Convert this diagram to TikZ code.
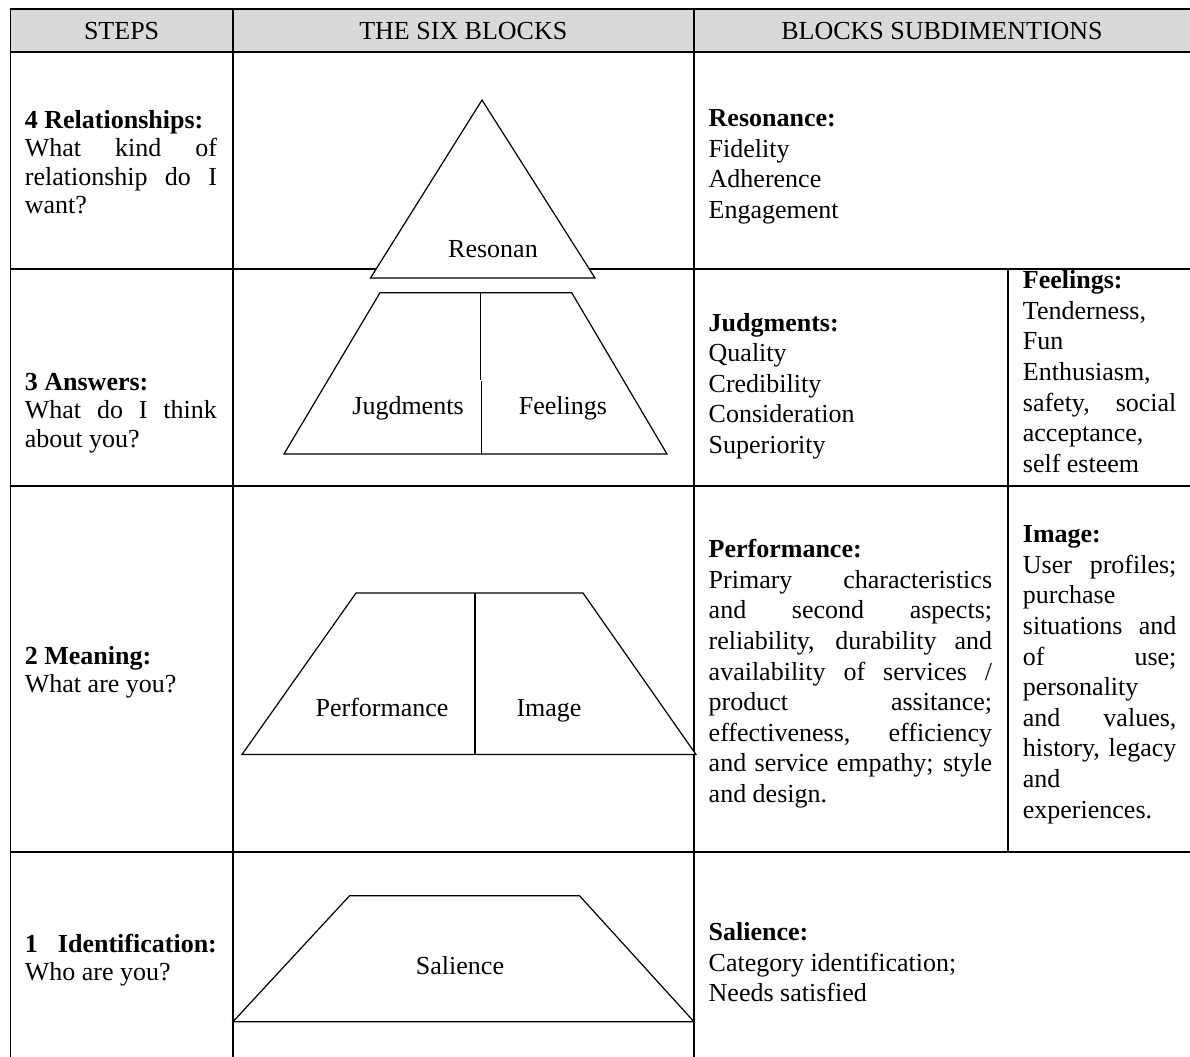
\documentclass[tikz,border=0pt]{standalone}
\usepackage{fontspec}
\setmainfont{Liberation Serif}
\definecolor{hdrgray}{HTML}{D9D9D9}
\newcommand\myJ[1]{\hbox to\hsize{\strut#1}}
\newcommand\myL[1]{\hbox to\hsize{\strut#1\hfil}}
\newcommand\cellbox[2]{\vbox{\hsize=#1\relax#2}}
\tikzset{
  tbl/.style={line width=0.85pt, line cap=rect},
  shp/.style={draw, line width=0.6pt, fill=white, line join=miter},
  divline/.style={line width=0.6pt},
  hdr/.style={anchor=base, inner sep=0pt, font=\fontsize{13}{15.3}\selectfont},
  lbl/.style={anchor=base, inner sep=0pt, font=\fontsize{13}{15.3}\selectfont},
  txtone/.style={anchor=north west, inner sep=0pt, font=\fontsize{13}{14.15}\selectfont},
  txtthree/.style={anchor=north west, inner sep=0pt, font=\fontsize{13}{15.3}\selectfont}
}
\begin{document}
\begin{tikzpicture}[x=0.5pt,y=-0.5pt]
\useasboundingbox (0,0) rectangle (1190,1056);
% header background
\fill[hdrgray] (10.5,9) rectangle (1190,52);
% table grid
\draw[tbl] (10.5,9) -- (1190,9);
\draw[tbl] (10.5,52) -- (1190,52);
\draw[tbl] (10.5,269) -- (1190,269);
\draw[tbl] (10.5,486) -- (1190,486);
\draw[tbl] (10.5,852) -- (1190,852);
\draw[tbl] (10.5,9) -- (10.5,1056);
\draw[tbl] (232.7,9) -- (232.7,1056);
\draw[tbl] (694,9) -- (694,1056);
\draw[tbl] (1008,269) -- (1008,852);
% header texts
\node[hdr] (h1) at (121.6,39.5) {STEPS};
\node[hdr] (h2) at (463.3,39.5) {THE SIX BLOCKS};
\node[hdr] (h3) at (942,39.5) {BLOCKS SUBDIMENTIONS};
% pyramid blocks
\draw[shp] (482,100) -- (595,278) -- (370.5,278) -- cycle;
\draw[shp] (380,292.7) -- (571.7,292.7) -- (667,454) -- (284,454) -- cycle;
\draw[divline] (480.7,292.7) -- (480.7,380);
\draw[line width=0.45pt] (481.2,381) -- (481.2,454);
\draw[shp] (356,593) -- (583,593) -- (696,754.5) -- (242,754.5) -- cycle;
\draw[divline] (475,593) -- (475,754.5);
\draw[shp] (349.6,895.7) -- (579.5,895.7) -- (694,1021.7) -- (233,1021.7) -- cycle;
% block labels
\node[lbl] (lres) at (493,257) {Resonan};
\node[lbl] (ljud) at (408,414) {Jugdments};
\node[lbl] (lfee) at (563,414) {Feelings};
\node[lbl] (lper) at (382,716.5) {Performance};
\node[lbl] (lima) at (549,716.5) {Image};
\node[lbl] (lsal) at (460,974) {Salience};
% steps column
\node[txtone] (s4) at (24.5,108.2) {\cellbox{96pt}{%
  \myL{\textbf{4 Relationships:}}%
  \myJ{What kind of}%
  \myJ{relationship do I}%
  \myL{want?}}};
\node[txtone] (s3) at (24.5,370.2) {\cellbox{96pt}{%
  \myL{\textbf{3 Answers:}}%
  \myJ{What do I think}%
  \myL{about you?}}};
\node[txtone] (s2) at (24.5,644.2) {\cellbox{96pt}{%
  \myL{\textbf{2 Meaning:}}%
  \myL{What are you?}}};
\node[txtone] (s1) at (24.5,932.2) {\cellbox{96pt}{%
  \myJ{\textbf{1 Identification:}}%
  \myL{Who are you?}}};
% subdimensions column
\node[txtthree] (dres) at (708.3,104.6) {\cellbox{141.7pt}{%
  \myL{\textbf{Resonance:}}%
  \myL{Fidelity}%
  \myL{Adherence}%
  \myL{Engagement}}};
\node[txtthree] (djud) at (708.3,309.3) {\cellbox{141.7pt}{%
  \myL{\textbf{Judgments:}}%
  \myL{Quality}%
  \myL{Credibility}%
  \myL{Consideration}%
  \myL{Superiority}}};
\node[txtthree] (dfee) at (1022.5,266.9) {\cellbox{76.75pt}{%
  \myL{\textbf{Feelings:}}%
  \myL{Tenderness,}%
  \myL{Fun}%
  \myL{Enthusiasm,}%
  \myJ{safety, social}%
  \myL{acceptance,}%
  \myL{self esteem}}};
\node[txtthree] (dper) at (708.3,535.9) {\cellbox{141.7pt}{%
  \myL{\textbf{Performance:}}%
  \myJ{Primary characteristics}%
  \myJ{and second aspects;}%
  \myJ{reliability, durability and}%
  \myJ{availability of services /}%
  \myJ{product assitance;}%
  \myJ{effectiveness, efficiency}%
  \myJ{and service empathy; style}%
  \myL{and design.}}};
\node[txtthree] (dima) at (1022.5,520.9) {\cellbox{76.75pt}{%
  \myL{\textbf{Image:}}%
  \myJ{User profiles;}%
  \myL{purchase}%
  \myJ{situations and}%
  \myJ{of use;}%
  \myL{personality}%
  \myJ{and values,}%
  \myJ{history, legacy}%
  \myL{and}%
  \myL{experiences.}}};
\node[txtthree] (dsal) at (708.3,918.6) {\cellbox{141.7pt}{%
  \myL{\textbf{Salience:}}%
  \myL{Category identification;}%
  \myL{Needs satisfied}}};
\end{tikzpicture}
\end{document}
